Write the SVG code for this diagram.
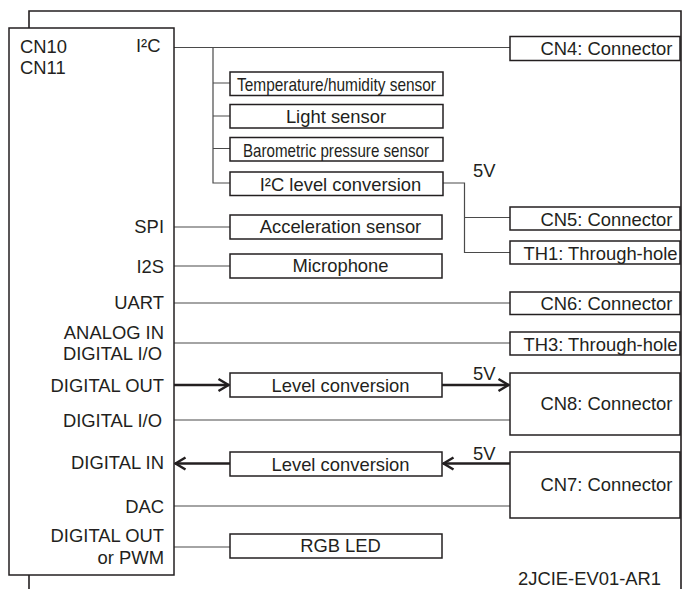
<svg xmlns="http://www.w3.org/2000/svg" width="683" height="589" viewBox="0 0 683 589">
<style>
text{font-family:"Liberation Sans",Arial,sans-serif;font-size:18.4px;fill:#231f20}
.box{fill:#fff;stroke:#231f20;stroke-width:1.5}
.ln{fill:none;stroke:#4a4a4a;stroke-width:1.2}
.bd{fill:none;stroke:#231f20;stroke-width:1.6}
.th{fill:none;stroke:#231f20;stroke-width:2.5}
.m{text-anchor:middle}
.e{text-anchor:end}
</style>
<defs>
<marker id="ah" markerUnits="userSpaceOnUse" markerWidth="14" markerHeight="16" viewBox="0 0 14 16" refX="12.5" refY="8" orient="auto">
<path d="M2,2 L12,8 L2,14" fill="none" stroke="#231f20" stroke-width="2.5"/>
</marker>
</defs>
<g id="board">
<path class="bd" d="M29,28 V11 H681 V589"/>
<path class="bd" d="M29,575 V589"/>
<text x="518" y="585">2JCIE-EV01-AR1</text>
</g>
<g id="connectors">
<path class="ln" d="M174,47.5 H510"/>
<path class="ln" d="M213,47.5 V183 H230"/>
<path class="ln" d="M213,83 H230 M213,116 H230 M213,148.5 H230"/>
<path class="ln" d="M443,183 H464.5 V252.5 H510 M464.5,217.5 H510"/>
<path class="ln" d="M174,227 H230"/>
<path class="ln" d="M174,266 H230"/>
<path class="ln" d="M174,303 H510"/>
<path class="ln" d="M174,343 H510"/>
<path class="th" d="M174,385 H229" marker-end="url(#ah)"/>
<path class="th" d="M442,385 H509" marker-end="url(#ah)"/>
<path class="ln" d="M174,420 H510"/>
<path class="th" d="M510,463.5 H443" marker-end="url(#ah)"/>
<path class="th" d="M230,463.5 H175" marker-end="url(#ah)"/>
<path class="ln" d="M174,506 H510"/>
<path class="ln" d="M174,547 H230"/>
<text x="473" y="177">5V</text>
<text x="473" y="380">5V</text>
<text x="473" y="459.5">5V</text>
</g>
<g id="cn10">
<rect class="box" x="9" y="28" width="165" height="547"/>
<text x="20" y="53">CN10</text>
<text x="20" y="74">CN11</text>
<text x="136" y="52">I²C</text>
<text class="e" x="164" y="233">SPI</text>
<text class="e" x="164" y="273">I2S</text>
<text class="e" x="164" y="309">UART</text>
<text class="e" x="164" y="339">ANALOG IN</text>
<text class="e" x="162" y="360">DIGITAL I/O</text>
<text class="e" x="164" y="392">DIGITAL OUT</text>
<text class="e" x="162" y="427">DIGITAL I/O</text>
<text class="e" x="164" y="469">DIGITAL IN</text>
<text class="e" x="164" y="513">DAC</text>
<text class="e" x="164" y="542">DIGITAL OUT</text>
<text class="e" x="164" y="564">or PWM</text>
</g>
<g id="temp">
<rect class="box" x="230" y="72" width="213" height="23.5"/>
<text class="m" x="336.5" y="91" textLength="199" lengthAdjust="spacingAndGlyphs">Temperature/humidity sensor</text>
</g>
<g id="light">
<rect class="box" x="230" y="104.5" width="213" height="23.5"/>
<text class="m" x="336" y="123">Light sensor</text>
</g>
<g id="baro">
<rect class="box" x="230" y="137.5" width="213" height="23.5"/>
<text class="m" x="336" y="156.5" textLength="186" lengthAdjust="spacingAndGlyphs">Barometric pressure sensor</text>
</g>
<g id="i2clevel">
<rect class="box" x="230" y="172" width="213" height="23.5"/>
<text class="m" x="340.5" y="190.5">I²C level conversion</text>
</g>
<g id="accel">
<rect class="box" x="230" y="215" width="212" height="24"/>
<text class="m" x="340.5" y="233">Acceleration sensor</text>
</g>
<g id="mic">
<rect class="box" x="230" y="254" width="212" height="24"/>
<text class="m" x="340.5" y="272">Microphone</text>
</g>
<g id="lc1">
<rect class="box" x="230" y="373" width="212" height="24"/>
<text class="m" x="340.5" y="391.5">Level conversion</text>
</g>
<g id="lc2">
<rect class="box" x="230" y="452" width="212" height="24"/>
<text class="m" x="340.5" y="470.5">Level conversion</text>
</g>
<g id="rgb">
<rect class="box" x="230" y="534" width="212" height="24"/>
<text class="m" x="340.5" y="552">RGB LED</text>
</g>
<g id="cn4">
<rect class="box" x="510" y="36.5" width="170" height="24"/>
<text class="m" x="606.5" y="55">CN4: Connector</text>
</g>
<g id="cn5">
<rect class="box" x="510" y="207" width="170" height="23"/>
<text class="m" x="606.5" y="225.5">CN5: Connector</text>
</g>
<g id="th1">
<rect class="box" x="510" y="241" width="170" height="23"/>
<text class="m" x="600.5" y="259.5">TH1: Through-hole</text>
</g>
<g id="cn6">
<rect class="box" x="510" y="292" width="170" height="22.5"/>
<text class="m" x="606.5" y="310">CN6: Connector</text>
</g>
<g id="th3">
<rect class="box" x="510" y="332" width="170" height="23"/>
<text class="m" x="600.5" y="350.5">TH3: Through-hole</text>
</g>
<g id="cn8">
<rect class="box" x="510" y="373" width="170" height="62"/>
<text class="m" x="606.5" y="410">CN8: Connector</text>
</g>
<g id="cn7">
<rect class="box" x="510" y="452" width="170" height="66"/>
<text class="m" x="606.5" y="491">CN7: Connector</text>
</g>
</svg>
